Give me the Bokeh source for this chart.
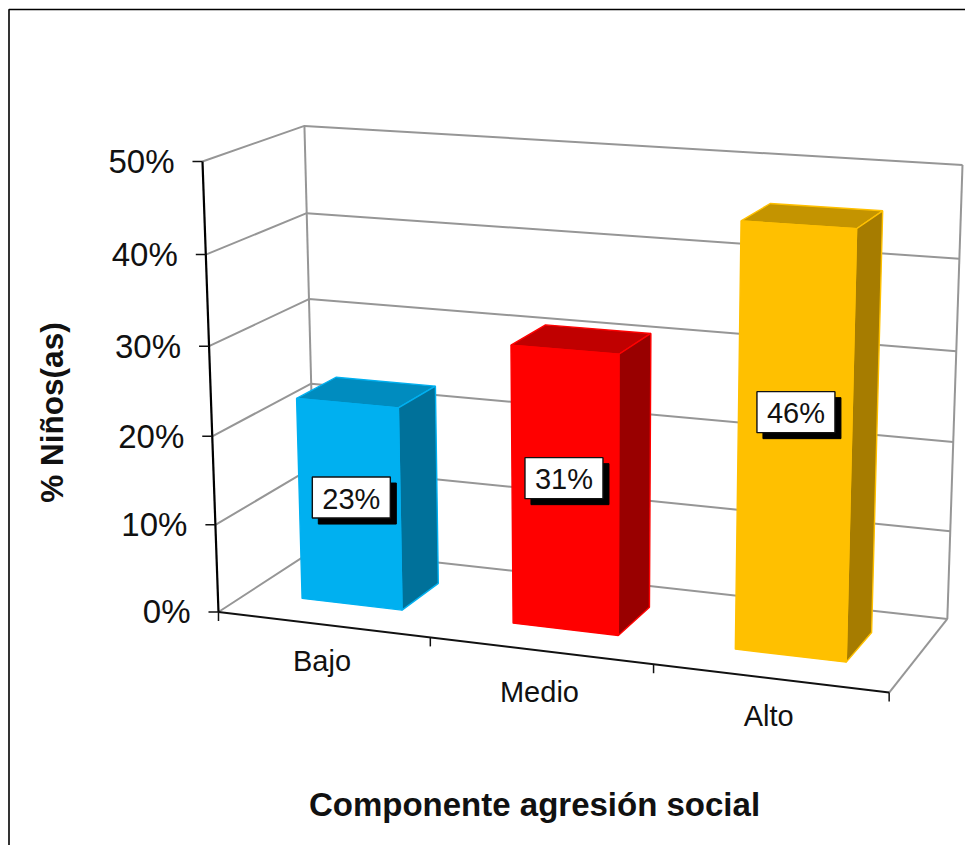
import numpy as np
from bokeh.plotting import figure
from bokeh.models import Range1d
from bokeh.core.properties import value
from bokeh.embed import file_html
from bokeh.resources import INLINE

categories = ["Bajo", "Medio", "Alto"]
percentages = [23, 31, 46]
y_ticks = [0, 10, 20, 30, 40, 50]
front_colors = ["#00B0F0", "#FF0000", "#FFC000"]
top_colors = ["#008CBF", "#C00000", "#C49400"]
side_colors = ["#00719A", "#990000", "#A67C00"]
x_title = "Componente agresión social"
y_title = "% Niños(as)"
label_height_fraction = [0.535, 0.547, 0.575]
label_x_shift = [2, -1, 1]
category_y_shift = [36, 41, 38]

# calibration of the 3D box: (category position, depth, percent) -> pixel
calib = [
    ((0,0,50),(202,161)),((0,0,40),(205,254)),((0,0,30),(209,345)),((0,0,20),(212,436)),
    ((0,0,10),(215,524)),((0,0,0),(218,612)),((0,1,50),(304,125)),((0,1,40),(306,213)),
    ((0,1,30),(308,299)),((0,1,20),(311,383)),((3,1,50),(962,165)),((3,1,40),(959,258)),
    ((3,1,0),(947,618)),((3,0,0),(889,692)),((1,0,0),(430,637)),((2,0,0),(652,664)),
]
A, b = [], []
for (u,d,z),(x,y) in calib:
    A.append([u,d,z,1,0,0,0,0,-x*u,-x*d,-x*z]); b.append(x)
    A.append([0,0,0,0,u,d,z,1,-y*u,-y*d,-y*z]); b.append(y)
h = np.linalg.lstsq(np.array(A,float), np.array(b,float), rcond=None)[0]
M = np.array([h[:4], h[4:8], [h[8],h[9],h[10],1.0]])
def proj(u,d,z):
    v = M @ np.array([u,d,z,1.0])
    return float(v[0]/v[2]), float(v[1]/v[2])
def poly(pts):
    q = [proj(*t) for t in pts]
    return [a for a,_ in q], [c for _,c in q]

p = figure(width=965, height=845, x_range=Range1d(0,965), y_range=Range1d(845,0),
           toolbar_location=None, output_backend="svg", min_border=0,
           outline_line_color=None, background_fill_color="white", border_fill_color="white")
p.axis.visible = False
p.grid.visible = False

GRID = "#969696"
FONT = value("Liberation Sans")
# chart frame
p.line([8.5,8.5,973],[853,9,9], line_color="#000000", line_width=1.6)

# walls' gridlines
for t in y_ticks:
    xs, ys = poly([(0,0,t),(0,1,t),(3,1,t)])
    p.line(xs, ys, line_color=GRID, line_width=2)
for u in (0,3):
    xs, ys = poly([(u,1,0),(u,1,50)])
    p.line(xs, ys, line_color=GRID, line_width=2)
xs, ys = poly([(3,1,0),(3,0,0)])
p.line(xs, ys, line_color=GRID, line_width=2)

# axes
xs, ys = poly([(0,0,0),(0,0,50)])
p.line(xs, ys, line_color="#000000", line_width=2.2)
xs, ys = poly([(0,0,0),(3,0,0)])
p.line(xs, ys, line_color="#111111", line_width=2)
for t in y_ticks:
    x, y = proj(0,0,t)
    p.line([x-10,x],[y,y], line_color="#111111", line_width=1.5)
    p.text([x-28],[y], text=[f"{t}%"], text_font=FONT, text_font_size="33px",
           text_align="right", text_baseline="middle", text_color="#111111")
for u in range(4):
    x, y = proj(u,0,0)
    p.line([x,x],[y,y+9], line_color="#111111", line_width=1.5)

# bars
W, D0, D1 = 0.24, 0.30, 0.71
for i, (cat, val) in enumerate(zip(categories, percentages)):
    c = i + 0.5
    l, r = c - W, c + W
    xs, ys = poly([(l,D0,val),(r,D0,val),(r,D1,val),(l,D1,val)])
    p.patch(xs, ys, fill_color=top_colors[i], line_color=front_colors[i], line_width=1.4)
    xs, ys = poly([(r,D0,0),(r,D1,0),(r,D1,val),(r,D0,val)])
    p.patch(xs, ys, fill_color=side_colors[i], line_color=front_colors[i], line_width=1.4)
    xs, ys = poly([(l,D0,0),(r,D0,0),(r,D0,val),(l,D0,val)])
    p.patch(xs, ys, fill_color=front_colors[i], line_color=front_colors[i], line_width=1.4)
    # value label
    x, y = proj(c, D0, val*label_height_fraction[i])
    x += label_x_shift[i]
    p.rect([x+6],[y+6], width=78, height=41, fill_color="#000000", line_color="#000000")
    p.rect([x],[y], width=78, height=41, fill_color="#FFFFFF", line_color="#111111", line_width=1.4)
    p.text([x],[y+1], text=[f"{val}%"], text_font=FONT, text_font_size="29px",
           text_align="center", text_baseline="middle", text_color="#111111")
    # category label
    tx, ty = proj(c, 0, 0)
    p.text([tx-1],[ty+category_y_shift[i]], text=[cat], text_font=FONT, text_font_size="29px",
           text_align="center", text_baseline="middle", text_color="#111111")

p.text([534],[804], text=[x_title], text_font=FONT, text_font_size="33px",
       text_font_style="bold", text_align="center", text_baseline="middle", text_color="#111111")
p.text([51],[412], text=[y_title], angle=np.pi/2, text_font=FONT, text_font_size="31.5px",
       text_font_style="bold", text_align="center", text_baseline="middle", text_color="#111111")

open("out.html","w").write(file_html(p, INLINE))
